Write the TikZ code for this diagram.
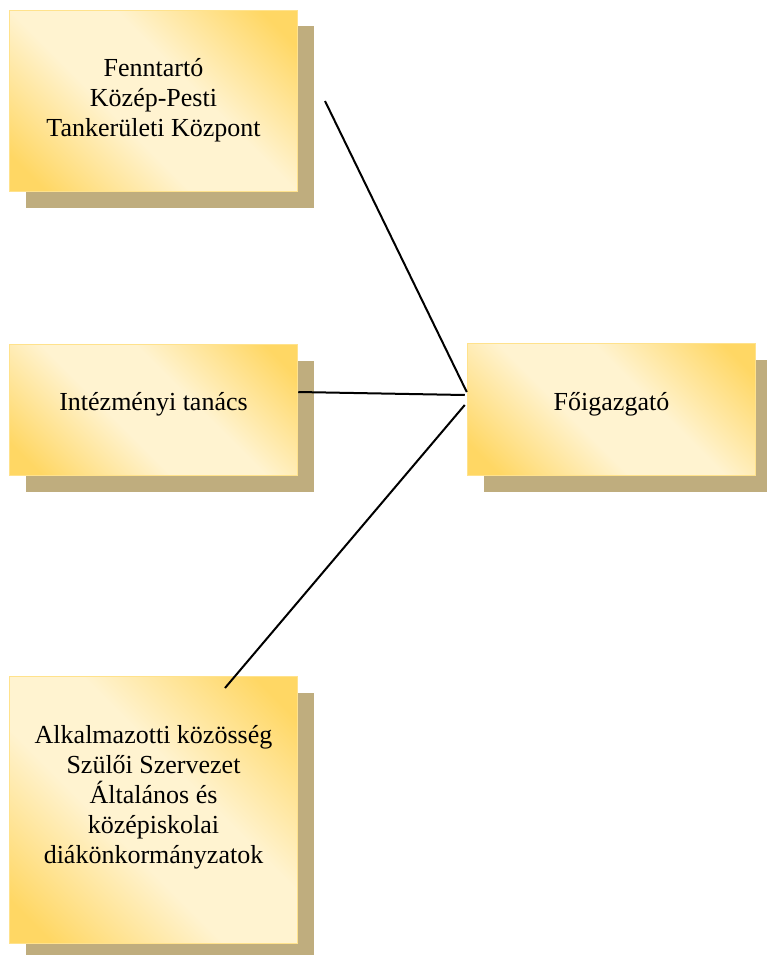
\documentclass[tikz,border=0pt]{standalone}
\usepackage{fontspec}
\setmainfont{Liberation Serif}
\usetikzlibrary{shadows,calc}
\definecolor{gold}{RGB}{255,215,100}
\definecolor{lightc}{RGB}{255,243,208}
\definecolor{shadowc}{RGB}{191,173,126}
\definecolor{edgec}{RGB}{255,226,140}
\pgfdeclareverticalshading{boxshade}{100bp}{color(0bp)=(gold); color(20bp)=(gold); color(42bp)=(lightc); color(58bp)=(lightc); color(80bp)=(gold); color(100bp)=(gold)}
\begin{document}
\begin{tikzpicture}[x=1pt,y=-1pt,
  orgbox/.style={rectangle, minimum width=288pt, inner sep=0pt, shading=boxshade, shading angle=-45,
    draw=edgec, line width=1.5pt,
    general shadow={fill=shadowc, shadow xshift=16pt, shadow yshift=-16pt}},
  boxtext/.style={align=center, font=\fontsize{26}{30}\selectfont, text=black},
  link/.style={draw=black, line width=2pt}]
\useasboundingbox (0,0) rectangle (766,955);

\node[orgbox, minimum height=181pt] (tk) at (153.5,101) {};
\node[boxtext] (tkt) at (153.5,100) {Fenntartó\\Közép-Pesti\\Tankerületi Központ};

\node[orgbox, minimum height=131pt] (it) at (153.5,410) {};
\node[boxtext] (itt) at (153.5,404) {Intézményi tanács};

\node[orgbox, minimum height=132pt] (fo) at (611.5,409.5) {};
\node[boxtext] (fot) at (611.5,404) {Főigazgató};

\node[orgbox, minimum height=267pt] (ak) at (153.5,810) {};
\node[boxtext] (akt) at (153.5,797) {Alkalmazotti közösség\\Szülői Szervezet\\Általános és\\középiskolai\\diákönkormányzatok};

\coordinate (s1) at (325,101);
\coordinate (s3) at (225,688);
\draw[link] (s1) -- ($(fo.west)+(0,-17.5)$);
\draw[link] ($(it.east)+(0,-18)$) -- ($(fo.west)+(-2,-14.5)$);
\draw[link] (s3) -- ($(fo.west)+(-2,-4.5)$);
\end{tikzpicture}
\end{document}
